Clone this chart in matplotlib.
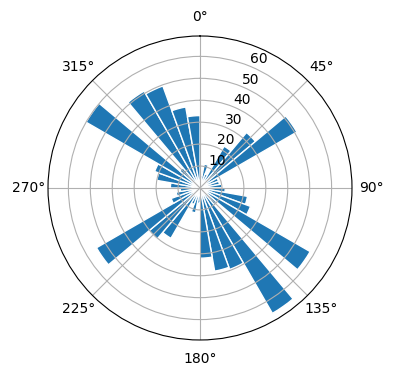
import numpy as np
import matplotlib
matplotlib.use("Agg")
import matplotlib.pyplot as plt

# bin centres (degrees) and counts
angles_deg = [5, 15, 25, 35, 45, 55, 65, 75, 85,
              95, 105, 115, 125, 135, 145, 155, 165, 175,
              185, 195, 205, 215, 225, 235, 245, 255, 265,
              275, 285, 295, 305, 315, 325, 335, 345, 355]
counts = [6, 11, 7, 22, 33, 51, 9, 9, 10,
          11.5, 22, 24.5, 58, 10, 66, 39.5, 38.5, 32,
          7, 11.5, 8, 26.5, 30.5, 54.5, 14, 11, 9,
          13.5, 20, 22, 60, 12, 51, 49.5, 37.5, 33]
bin_width_deg = 10

fig = plt.figure(figsize=(3.96, 3.80), dpi=100)
ax = fig.add_axes([0.1212, 0.1053, 0.7677, 0.8], projection="polar")
ax.set_theta_zero_location("N")
ax.set_theta_direction(-1)
ax.bar(np.deg2rad(angles_deg), counts, width=np.deg2rad(bin_width_deg),
       color="#1f77b4", edgecolor="white", linewidth=1)
fig.savefig("out.png", dpi=100)
